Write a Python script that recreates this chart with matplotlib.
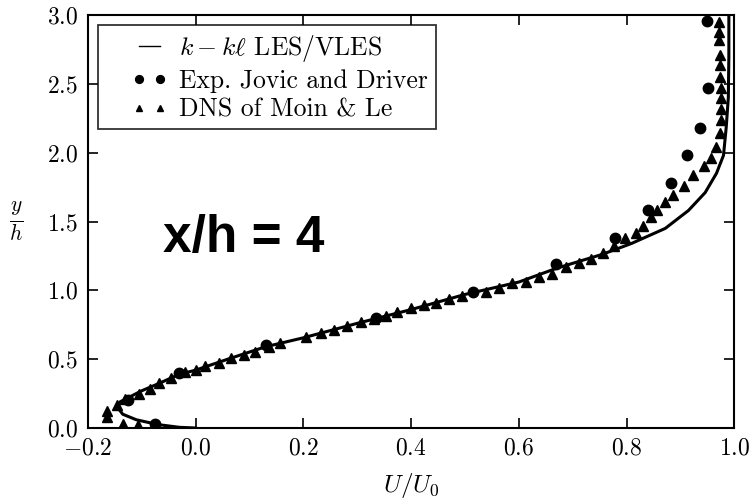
import matplotlib
matplotlib.use('Agg')
import matplotlib.pyplot as plt
from matplotlib.legend_handler import HandlerLine2D

plt.rcParams['font.family'] = ['cmr10', 'DejaVu Serif']
plt.rcParams['mathtext.fontset'] = 'cm'
plt.rcParams['axes.formatter.use_mathtext'] = True

# k - kl LES/VLES profile
les_u = [0.0, -0.03, -0.07, -0.11, -0.135, -0.145, -0.14, -0.125, -0.10, -0.07, -0.03, 0.0,
         0.06, 0.13, 0.20, 0.30, 0.40, 0.50, 0.60, 0.67, 0.72, 0.754, 0.809, 0.872, 0.915,
         0.946, 0.967, 0.980, 0.985, 0.989, 0.990, 0.990]
les_y = [0.0, 0.005, 0.025, 0.06, 0.10, 0.15, 0.19, 0.22, 0.27, 0.32, 0.39, 0.42,
         0.50, 0.59, 0.655, 0.76, 0.86, 0.97, 1.06, 1.16, 1.22, 1.26, 1.34, 1.45, 1.58,
         1.71, 1.85, 1.98, 2.18, 2.40, 2.70, 3.0]

# experiment, Jovic and Driver
exp_u = [-0.075, -0.125, -0.03, 0.13, 0.335, 0.515, 0.67, 0.778, 0.84, 0.883, 0.913,
         0.937, 0.952, 0.95]
exp_y = [0.03, 0.20, 0.40, 0.60, 0.80, 0.99, 1.19, 1.38, 1.58, 1.78, 1.98,
         2.18, 2.47, 2.96]

# DNS, Moin & Le
dns_u = [-0.076, -0.107, -0.135, -0.165, -0.165, -0.145, -0.13, -0.104, -0.085, -0.067,
         -0.046, -0.02, 0.0, 0.018, 0.044, 0.065, 0.09, 0.111, 0.137, 0.157,
         0.205, 0.233, 0.257, 0.281, 0.307, 0.331, 0.354, 0.374, 0.40, 0.424,
         0.446, 0.47, 0.494, 0.539, 0.563, 0.587, 0.613, 0.637, 0.661, 0.687,
         0.711, 0.735, 0.757, 0.776, 0.798, 0.817, 0.831, 0.846, 0.857, 0.872,
         0.887, 0.906, 0.924, 0.943, 0.956, 0.967, 0.974, 0.976, 0.976, 0.976,
         0.976, 0.974, 0.974, 0.974, 0.972, 0.972, 0.972]
dns_y = [0.03, 0.025, 0.03, 0.08, 0.12, 0.165, 0.21, 0.25, 0.28, 0.33,
         0.36, 0.41, 0.42, 0.45, 0.47, 0.51, 0.53, 0.55, 0.59, 0.62,
         0.66, 0.69, 0.71, 0.74, 0.77, 0.79, 0.81, 0.84, 0.87, 0.89,
         0.91, 0.94, 0.96, 0.99, 1.02, 1.05, 1.06, 1.10, 1.12, 1.17,
         1.20, 1.23, 1.27, 1.32, 1.38, 1.42, 1.47, 1.53, 1.58, 1.64,
         1.69, 1.76, 1.84, 1.90, 1.96, 2.04, 2.14, 2.24, 2.32, 2.40,
         2.47, 2.55, 2.64, 2.71, 2.82, 2.88, 2.95]

xticks = [-0.2, 0.0, 0.2, 0.4, 0.6, 0.8, 1.0]
yticks = [0.0, 0.5, 1.0, 1.5, 2.0, 2.5, 3.0]

fig = plt.figure(figsize=(7.5, 5), dpi=100)
ax = fig.add_axes([0.117, 0.144, 0.862, 0.826])

ax.plot(les_u, les_y, color='black', lw=2.2, label=r'$k-k\ell$ LES/VLES')
ax.plot(exp_u, exp_y, 'o', color='black', ms=7.5, ls='none',
        label='Exp. Jovic and Driver')
ax.plot(dns_u, dns_y, '^', color='black', ms=6.5, ls='none',
        label='DNS of Moin & Le')

ax.set_xlim(-0.2, 1.0)
ax.set_ylim(0.0, 3.0)
ax.set_xticks(xticks)
ax.set_yticks(yticks)
ax.tick_params(direction='in', top=True, right=True, length=7, width=1.2,
               labelsize=17, pad=7)
for s in ax.spines.values():
    s.set_linewidth(1.5)

ax.set_xlabel(r'$U/U_0$', fontsize=18, labelpad=8)
ax.set_ylabel(r'$\frac{y}{h}$', fontsize=22, rotation=0, va='center', labelpad=22)

# handles indented from the frame, small markers
hmap = {l: HandlerLine2D(numpoints=2, xpad=1.0) for l in ax.get_lines()}
leg = ax.legend(loc='upper left', fontsize=18.5, frameon=True, fancybox=False,
                edgecolor='black', handlelength=2.4, borderaxespad=0.4,
                borderpad=0.3, labelspacing=0.2, handletextpad=0.45,
                markerscale=0.75, handler_map=hmap)
leg.get_frame().set_linewidth(1.3)
leg.get_lines()[0].set_linewidth(1.0)

ax.text(0.09, 1.38, 'x/h = 4', fontsize=37, fontweight='bold',
        family='Liberation Sans', ha='center', va='center')

fig.savefig('out.png', dpi=100)
